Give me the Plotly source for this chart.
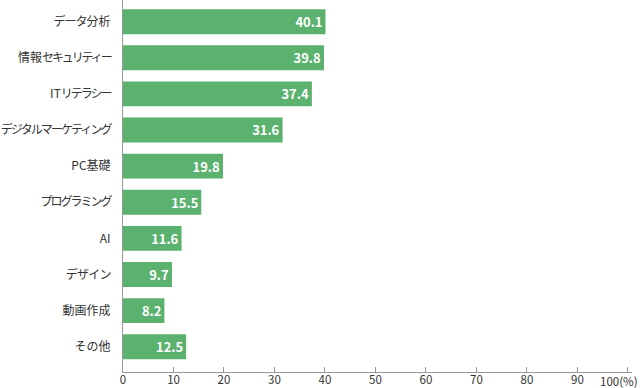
import plotly.graph_objects as go

categories = ["データ分析", "情報セキュリティー", "ITリテラシー", "デジタルマーケティング",
              "PC基礎", "プログラミング", "AI", "デザイン", "動画作成", "その他"]
values = [40.1, 39.8, 37.4, 31.6, 19.8, 15.5, 11.6, 9.7, 8.2, 12.5]
tick_vals = [0, 10, 20, 30, 40, 50, 60, 70, 80, 90]
tick_text = ["0", "10", "20", "30", "40", "50", "60", "70", "80", "90"]
last_tick_label = "100(%)"

FONT = "Noto Sans CJK JP"


def condensed(s, px):
    return f'<span style="letter-spacing:{px}px">{s}</span>'


# condensed look for proportional kana in the category labels (kana parts only)
cat_text = [
    condensed("データ", -1.0) + "分析",
    "情報" + condensed("セキュリティー", -2.1),
    "IT" + condensed("リテラシー", -2.0),
    condensed("デジタルマーケティング", -1.9),
    "PC基礎",
    condensed("プログラミング", -2.0),
    "AI",
    condensed("デザイン", -0.8),
    "動画作成",
    "その他",
]

fig = go.Figure(go.Bar(
    x=values, y=categories, orientation="h",
    marker=dict(color="#5BB26F", line=dict(width=0)),
    width=0.69,
    text=[f"{v:.1f}" for v in values],
    textposition="inside", insidetextanchor="end",
    textfont=dict(color="white", size=13, family=FONT + ", sans-serif", weight="bold"),
    cliponaxis=False,
    hoverinfo="skip",
))

fig.update_layout(
    width=640, height=388,
    margin=dict(l=123, r=8, t=0, b=16),
    plot_bgcolor="white", paper_bgcolor="white",
    showlegend=False,
    font=dict(family=FONT, size=12, color="#333333"),
    xaxis=dict(
        range=[0, 100.8], tickvals=tick_vals + [100], ticktext=tick_text + [""],
        ticks="inside", ticklen=5, tickcolor="#999999", tickwidth=1,
        showline=True, linecolor="#999999", linewidth=1,
        showgrid=False, zeroline=False, automargin=False,
        ticklabelstandoff=-3,
        tickfont=dict(size=11.5, color="#333333", family=FONT),
    ),
    yaxis=dict(
        categoryorder="array", categoryarray=categories,
        tickvals=categories, ticktext=cat_text,
        range=[9.7, -0.6],
        showline=True, linecolor="#999999", linewidth=1,
        showgrid=False, zeroline=False, ticks="", ticklabelstandoff=9,
        automargin=False,
        tickfont=dict(size=12, color="#333333", family=FONT),
    ),
)

fig.add_annotation(
    x=100, y=0, xref="x", yref="paper", yanchor="top", xanchor="right",
    xshift=12, yshift=1,
    text=last_tick_label, showarrow=False,
    font=dict(size=11.5, color="#333333", family=FONT),
)

fig.write_html("out.html", config={"displayModeBar": False},
               post_script="document.body.style.margin='0';document.body.style.overflow='hidden';")
